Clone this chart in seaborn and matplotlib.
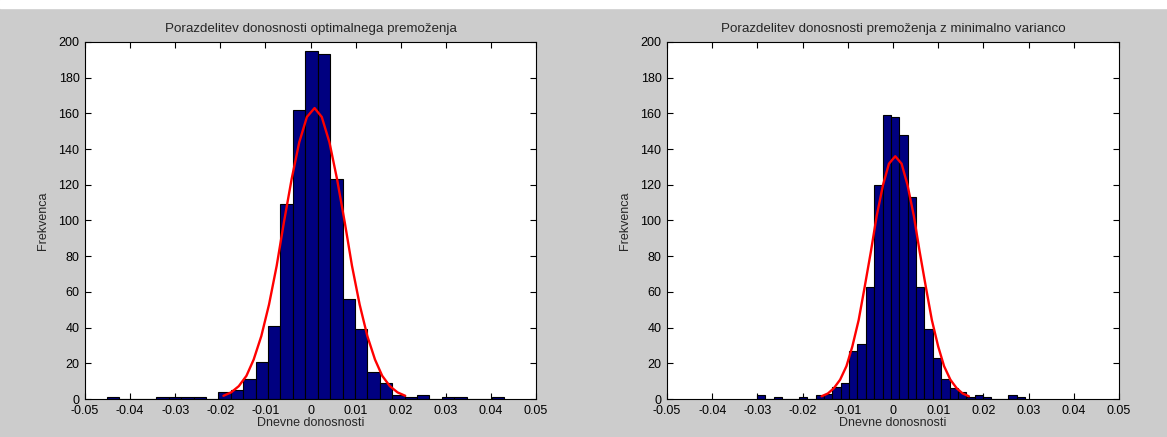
import numpy as np
import matplotlib
matplotlib.use("Agg")
import matplotlib.pyplot as plt
from matplotlib.patches import Rectangle
import seaborn as sns

# histogram counts (32 bins each, as MATLAB histfit draws them)
opt_counts = [1, 0, 0, 0, 1, 1, 1, 1, 0, 4, 5, 11, 21, 41, 109, 162,
              195, 193, 123, 56, 39, 15, 9, 2, 1, 2, 0, 1, 1, 0, 0, 1]
opt_range = (-0.0452, 0.0429)

minvar_counts = [2, 0, 1, 0, 0, 1, 0, 2, 3, 7, 9, 27, 31, 63, 120, 159,
                 158, 148, 113, 63, 39, 23, 11, 6, 4, 1, 2, 1, 0, 0, 2, 1]
minvar_range = (-0.0301, 0.0292)

# fitted normal curve
opt_curve_x = [-0.0193, -0.0176, -0.0159, -0.0142, -0.0126, -0.0109, -0.0092,
               -0.0075, -0.0059, -0.0042, -0.0025, -0.0008, 0.0009, 0.0025,
               0.0042, 0.0059, 0.0076, 0.0092, 0.0109, 0.0126, 0.0143,
               0.0159, 0.0176, 0.0193, 0.0210]
opt_curve_y = [1.8, 3.7, 7.2, 13.0, 22.1, 35.3, 52.9, 74.6, 98.9, 123.0,
               143.8, 158.0, 163.0, 158.0, 143.8, 123.0, 98.9, 74.6, 52.9,
               35.3, 22.1, 13.0, 7.2, 3.7, 1.8]

minvar_curve_x = [-0.0158, -0.0144, -0.0131, -0.0117, -0.0103, -0.0090,
                  -0.0076, -0.0063, -0.0049, -0.0036, -0.0022, -0.0009,
                  0.0005, 0.0019, 0.0032, 0.0046, 0.0059, 0.0073, 0.0086,
                  0.0100, 0.0113, 0.0127, 0.0141, 0.0154, 0.0168]
minvar_curve_y = [1.5, 3.1, 6.0, 10.8, 18.4, 29.4, 44.2, 62.3, 82.5, 102.7,
                  120.0, 131.8, 136.0, 131.8, 120.0, 102.7, 82.5, 62.3, 44.2,
                  29.4, 18.4, 10.8, 6.0, 3.1, 1.5]

titles = ["Porazdelitev donosnosti optimalnega premoženja",
          "Porazdelitev donosnosti premoženja z minimalno varianco"]
xticks = [-0.05, -0.04, -0.03, -0.02, -0.01, 0, 0.01, 0.02, 0.03, 0.04, 0.05]
xtick_labels = ["-0.05", "-0.04", "-0.03", "-0.02", "-0.01", "0",
                "0.01", "0.02", "0.03", "0.04", "0.05"]
yticks = list(range(0, 201, 20))

sns.set_style("ticks")
plt.rcParams['font.family'] = ['Liberation Sans', 'DejaVu Sans']
plt.rcParams['font.size'] = 9

fig = plt.figure(figsize=(11.67, 4.37), dpi=100, facecolor='#cccccc')
fig.patches.append(Rectangle((0, 1 - 8 / 437), 1, 8 / 437,
                             transform=fig.transFigure, color='white', zorder=0))

ax1 = fig.add_axes([85 / 1167, 38 / 437, 451 / 1167, 357 / 437])
ax2 = fig.add_axes([667 / 1167, 38 / 437, 452 / 1167, 357 / 437])

panels = [(ax1, opt_counts, opt_range, opt_curve_x, opt_curve_y, titles[0]),
          (ax2, minvar_counts, minvar_range, minvar_curve_x, minvar_curve_y, titles[1])]

for ax, counts, rng, cx, cy, title in panels:
    nb = len(counts)
    width = (rng[1] - rng[0]) / nb
    centers = rng[0] + (np.arange(nb) + 0.5) * width
    sns.histplot(x=centers, weights=counts, bins=nb, binrange=rng, ax=ax,
                 color='#000080', edgecolor='black', linewidth=0.8, alpha=1)
    sns.lineplot(x=cx, y=cy, ax=ax, color='red', linewidth=1.7, sort=False)

    ax.set_facecolor('white')
    ax.set_xlim(-0.05, 0.05)
    ax.set_ylim(0, 200)
    ax.set_xticks(xticks)
    ax.set_xticklabels(xtick_labels)
    ax.set_yticks(yticks)
    ax.tick_params(direction='in', length=4, width=0.8, top=True, right=True,
                   labelsize=9, pad=4, colors='black')
    for s in ax.spines.values():
        s.set_visible(True)
        s.set_linewidth(0.8)
        s.set_color('black')
    ax.set_title(title, fontsize=9.6, pad=7)
    ax.set_xlabel('Dnevne donosnosti', fontsize=9, labelpad=0)
    ax.set_ylabel('Frekvenca', fontsize=9, labelpad=7)

fig.savefig('out.png', dpi=100, facecolor=fig.get_facecolor())
